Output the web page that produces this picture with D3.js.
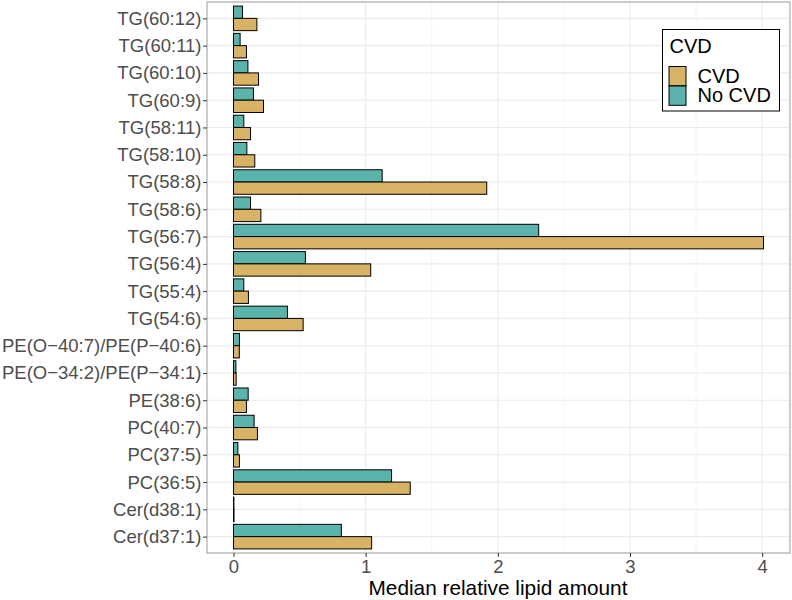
<!DOCTYPE html>
<html>
<head>
<meta charset="utf-8">
<script src="https://cdn.jsdelivr.net/npm/d3@7"></script>
<style>
  body { margin: 0; background: #fff; }
  svg { display: block; font-family: "Liberation Sans", Arial, sans-serif; }
</style>
</head>
<body>
<svg id="chart" width="792" height="600"></svg>
<script>
// Data (top to bottom as shown)
const categories = [
  "TG(60:12)", "TG(60:11)", "TG(60:10)", "TG(60:9)", "TG(58:11)", "TG(58:10)",
  "TG(58:8)", "TG(58:6)", "TG(56:7)", "TG(56:4)", "TG(55:4)", "TG(54:6)",
  "PE(O\u221240:7)/PE(P\u221240:6)", "PE(O\u221234:2)/PE(P\u221234:1)",
  "PE(38:6)", "PC(40:7)", "PC(37:5)", "PC(36:5)", "Cer(d38:1)", "Cer(d37:1)"
];
const cvdValues = [
  0.177, 0.098, 0.189, 0.227, 0.129, 0.161,
  1.916, 0.207, 4.01, 1.038, 0.113, 0.527,
  0.044, 0.020, 0.098, 0.181, 0.045, 1.337, 0.004, 1.045
];
const noCvdValues = [
  0.068, 0.050, 0.109, 0.151, 0.078, 0.101,
  1.125, 0.129, 2.309, 0.544, 0.078, 0.408,
  0.045, 0.018, 0.111, 0.156, 0.033, 1.196, 0.003, 0.816
];
const groups = ["CVD", "No CVD"];
const groupColors = ["#d8b365", "#5ab4ac"];
const xTicks = [0, 1, 2, 3, 4];
const xMinorTicks = [0.5, 1.5, 2.5, 3.5];
const xTitle = "Median relative lipid amount";
const legendTitle = "CVD";

const svg = d3.select("#chart");
const W = 792, H = 600;
const margin = { top: 2, right: 2, bottom: 47, left: 207 };
const pw = W - margin.left - margin.right;
const ph = H - margin.top - margin.bottom;

const maxV = d3.max(cvdValues.concat(noCvdValues));
const x = d3.scaleLinear()
  .domain([-0.05 * maxV, maxV * 1.05])
  .range([margin.left, margin.left + pw]);

const y = d3.scalePoint()
  .domain(categories)
  .range([margin.top, margin.top + ph])
  .padding(0.6);
const step = y.step();
const barH = step * 0.45;

const g = svg.append("g");

// grid
g.selectAll(".minorx").data(xMinorTicks).join("line")
  .attr("x1", d => x(d)).attr("x2", d => x(d))
  .attr("y1", margin.top).attr("y2", margin.top + ph)
  .attr("stroke", "#ebebeb").attr("stroke-width", 0.55);
g.selectAll(".majorx").data(xTicks).join("line")
  .attr("x1", d => x(d)).attr("x2", d => x(d))
  .attr("y1", margin.top).attr("y2", margin.top + ph)
  .attr("stroke", "#ebebeb").attr("stroke-width", 1.1);
g.selectAll(".majory").data(categories).join("line")
  .attr("x1", margin.left).attr("x2", margin.left + pw)
  .attr("y1", d => y(d)).attr("y2", d => y(d))
  .attr("stroke", "#ebebeb").attr("stroke-width", 1.1);

// bars
const rows = categories.map((c, i) => ({ c, cvd: cvdValues[i], no: noCvdValues[i] }));
const bars = g.append("g");
bars.selectAll(".nocvd").data(rows).join("rect")
  .attr("x", x(0))
  .attr("y", d => y(d.c) - barH)
  .attr("width", d => x(d.no) - x(0))
  .attr("height", barH)
  .attr("fill", groupColors[1])
  .attr("stroke", "#000").attr("stroke-width", 1);
bars.selectAll(".cvd").data(rows).join("rect")
  .attr("x", x(0))
  .attr("y", d => y(d.c))
  .attr("width", d => x(d.cvd) - x(0))
  .attr("height", barH)
  .attr("fill", groupColors[0])
  .attr("stroke", "#000").attr("stroke-width", 1);

// panel border
g.append("rect")
  .attr("x", margin.left).attr("y", margin.top)
  .attr("width", pw).attr("height", ph)
  .attr("fill", "none").attr("stroke", "#999").attr("stroke-width", 1);

// x axis
const xAxis = d3.axisBottom(x).tickValues(xTicks).tickFormat(d3.format("d"))
  .tickSize(4).tickPadding(3);
const xa = svg.append("g").attr("transform", `translate(0,${margin.top + ph})`).call(xAxis);
xa.select(".domain").remove();
xa.selectAll(".tick line").attr("stroke", "#333").attr("stroke-width", 1);
xa.selectAll(".tick text").attr("fill", "#4d4d4d").attr("font-size", "18.5px")
  .attr("font-family", "Liberation Sans, Arial, sans-serif");

// y axis
const yAxis = d3.axisLeft(y).tickSize(4).tickPadding(1.5);
const ya = svg.append("g").attr("transform", `translate(${margin.left},0)`).call(yAxis);
ya.select(".domain").remove();
ya.selectAll(".tick line").attr("stroke", "#333").attr("stroke-width", 1);
ya.selectAll(".tick text").attr("fill", "#4d4d4d").attr("font-size", "18.5px")
  .attr("font-family", "Liberation Sans, Arial, sans-serif");

// x title
svg.append("text")
  .attr("x", margin.left + pw / 2 - 0.5)
  .attr("y", 595)
  .attr("text-anchor", "middle")
  .attr("font-size", "20.8px")
  .attr("fill", "#000")
  .text(xTitle);

// legend
const lg = svg.append("g");
lg.append("rect").attr("x", 662.5).attr("y", 29.5).attr("width", 117).attr("height", 81.5)
  .attr("fill", "#fff").attr("stroke", "#000").attr("stroke-width", 1);
lg.append("text").attr("x", 669.5).attr("y", 52.5).attr("font-size", "20px").attr("fill", "#000")
  .text(legendTitle);
const keyTops = [66.5, 86];
groups.forEach((grp, i) => {
  lg.append("rect").attr("x", 669).attr("y", keyTops[i]).attr("width", 17).attr("height", 19.3)
    .attr("fill", groupColors[i]).attr("stroke", "#000").attr("stroke-width", 1);
  lg.append("text").attr("x", 697.5).attr("y", keyTops[i] + 16.3)
    .attr("font-size", "20px").attr("fill", "#000").text(grp);
});
</script>
</body>
</html>
